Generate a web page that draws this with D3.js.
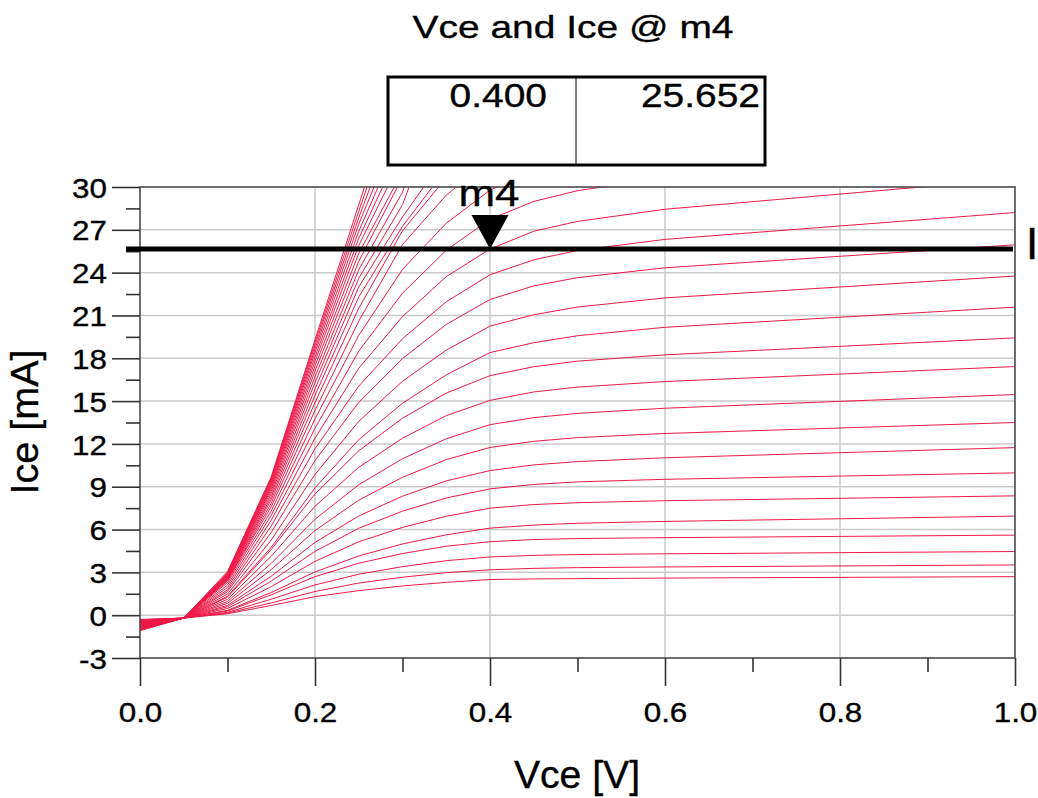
<!DOCTYPE html>
<html><head><meta charset="utf-8">
<script src="https://cdn.jsdelivr.net/npm/d3@7"></script>
<style>
body{margin:0;background:#fff;}
svg{display:block;}
text{font-family:"Liberation Sans",Arial,Helvetica,sans-serif;fill:#000;stroke:#000;stroke-width:0.35px;}
</style>
</head><body>
<svg id="c" width="1038" height="798"></svg>
<script>
// ---- data ----
const vceSweep = [0, 0.05, 0.1, 0.15, 0.2, 0.25, 0.3, 0.35, 0.4, 0.45, 0.5, 0.6, 1.0];
const iceCurves = [
  [-0.30,-0.20,0.10,0.68,1.30,1.72,2.05,2.30,2.50,2.54,2.56,2.60,2.70],
  [-0.32,-0.20,0.15,0.86,1.66,2.25,2.66,2.98,3.18,3.28,3.33,3.38,3.52],
  [-0.35,-0.20,0.20,1.12,2.12,2.87,3.40,3.82,4.08,4.19,4.25,4.30,4.46],
  [-0.37,-0.20,0.29,1.43,2.70,3.64,4.32,4.83,5.15,5.30,5.37,5.43,5.61],
  [-0.39,-0.20,0.34,1.59,3.03,4.15,4.99,5.63,6.10,6.31,6.44,6.57,6.94],
  [-0.42,-0.20,0.47,2.00,3.77,5.14,6.15,6.93,7.50,7.75,7.88,8.02,8.36],
  [-0.44,-0.20,0.59,2.39,4.47,6.09,7.29,8.21,8.85,9.16,9.34,9.52,9.97],
  [-0.47,-0.20,0.69,2.73,5.10,6.95,8.34,9.41,10.13,10.53,10.76,11.03,11.74],
  [-0.49,-0.20,0.83,3.19,5.93,8.06,9.66,10.90,11.75,12.18,12.44,12.73,13.50],
  [-0.51,-0.20,0.96,3.63,6.72,9.14,10.96,12.36,13.35,13.84,14.14,14.50,15.46],
  [-0.54,-0.20,1.11,4.13,7.63,10.36,12.40,13.98,15.05,15.64,15.98,16.37,17.42],
  [-0.56,-0.20,1.26,4.60,8.49,11.52,13.80,15.56,16.78,17.41,17.80,18.24,19.43],
  [-0.58,-0.20,1.33,4.76,8.92,12.30,14.85,16.84,18.40,19.09,19.58,20.17,21.58],
  [-0.61,-0.20,1.48,5.27,9.86,13.58,16.39,18.57,20.25,21.05,21.59,22.23,23.76],
  [-0.63,-0.20,1.65,5.80,10.83,14.91,17.98,20.37,22.12,23.07,23.65,24.34,25.95],
  [-0.65,-0.20,1.78,6.25,11.66,16.05,19.37,21.96,23.85,24.90,25.55,26.33,28.21],
  [-0.68,-0.20,1.94,6.65,12.40,17.30,20.92,23.72,25.652,26.90,27.59,28.44,30.57],
  [-0.70,-0.20,2.11,7.00,13.10,18.50,22.56,25.57,27.74,28.99,29.74,30.64],
  [-0.72,-0.20,2.28,7.30,13.75,19.60,24.23,27.46,29.78,31.11],
  [-0.75,-0.20,2.40,7.60,14.35,20.60,25.97,29.43,31.91],
  [-0.77,-0.20,2.45,7.85,14.90,21.50,26.93,30.65],
  [-0.79,-0.20,2.50,8.10,15.40,22.30,27.25,31.27],
  [-0.82,-0.20,2.54,8.30,15.85,23.00,27.90,32.24],
  [-0.84,-0.20,2.58,8.50,16.30,23.60,28.76,36.97],
  [-0.86,-0.20,2.62,8.70,16.70,24.20,29.64,38.46],
  [-0.89,-0.20,2.66,8.85,17.10,24.80,30.67],
  [-0.91,-0.20,2.70,9.00,17.45,25.35,31.09],
  [-0.93,-0.20,2.74,9.12,17.80,25.90,32.13],
  [-0.96,-0.20,2.78,9.24,18.10,26.40,32.99],
  [-0.98,-0.20,2.82,9.35,18.40,26.90,33.90],
  [-1.01,-0.20,2.86,9.45,18.65,27.40,34.86],
  [-1.03,-0.20,2.92,9.55,18.90,27.85,36.02],
  [-1.06,-0.20,2.98,9.62,19.10,28.30,37.19],
  [-1.08,-0.20,3.05,9.70,19.30,28.75,38.33]
];
const xTicks = [0, 0.2, 0.4, 0.6, 0.8, 1.0];
const xMinorTicks = [0.1, 0.3, 0.5, 0.7, 0.9];
const yTicks = [-3, 0, 3, 6, 9, 12, 15, 18, 21, 24, 27, 30];
const yMinorTicks = [-1.5, 1.5, 4.5, 7.5, 10.5, 13.5, 16.5, 19.5, 22.5, 25.5, 28.5];
const markerName = "m4";
const markerVce = 0.400;
const markerIce = 25.652;
const titleText = "Vce and Ice @ m4";
const xLabel = "Vce [V]";
const yLabel = "Ice [mA]";

// ---- chart ----
const svg = d3.select("#c");
const L = 140, R = 1015, T = 187, B = 658;
const x = d3.scaleLinear().domain([0, 1]).range([L, R]);
const y = d3.scaleLinear().domain([-3, 30]).range([B, T]);
const red = "#ef1a48";

function widen(sel, f) {
  sel.each(function() {
    const w = this.getComputedTextLength();
    d3.select(this).attr("textLength", w * f).attr("lengthAdjust", "spacingAndGlyphs");
  });
}

// grid
const grid = svg.append("g").attr("stroke", "#cacaca").attr("stroke-width", 1.5);
grid.selectAll(".gy").data(yTicks.filter(d => d > -3 && d < 30)).join("line")
  .attr("x1", L).attr("x2", R).attr("y1", d => y(d)).attr("y2", d => y(d));
grid.selectAll(".gx").data(xTicks.filter(d => d > 0 && d < 1)).join("line")
  .attr("y1", T).attr("y2", B).attr("x1", d => x(d)).attr("x2", d => x(d));

// curves
svg.append("clipPath").attr("id", "clip").append("rect")
  .attr("x", L).attr("y", T).attr("width", R - L).attr("height", B - T);
const line = d3.line().x(d => x(d[0])).y(d => y(d[1]));
svg.append("g").attr("clip-path", "url(#clip)")
  .selectAll("path").data(iceCurves).join("path")
  .attr("d", c => line(c.map((v, i) => [vceSweep[i], v])))
  .attr("fill", "none").attr("stroke", red).attr("stroke-width", 1);

// frame
svg.append("rect").attr("x", L).attr("y", T).attr("width", R - L).attr("height", B - T)
  .attr("fill", "none").attr("stroke", "#4a4a4a").attr("stroke-width", 1.6);

// axes
const yAx = svg.append("g").attr("transform", `translate(${L},0)`)
  .call(d3.axisLeft(y).tickValues(yTicks).tickSize(28).tickPadding(5).tickFormat(d => String(d)));
const yAxm = svg.append("g").attr("transform", `translate(${L},0)`)
  .call(d3.axisLeft(y).tickValues(yMinorTicks).tickSize(14).tickFormat(""));
const xAx = svg.append("g").attr("transform", `translate(0,${B})`)
  .call(d3.axisBottom(x).tickValues(xTicks).tickSize(28).tickPadding(16).tickFormat(d3.format(".1f")));
const xAxm = svg.append("g").attr("transform", `translate(0,${B})`)
  .call(d3.axisBottom(x).tickValues(xMinorTicks).tickSize(14).tickFormat(""));
[yAx, yAxm, xAx, xAxm].forEach(a => {
  a.select(".domain").remove();
  a.selectAll(".tick line").attr("stroke", "#333").attr("stroke-width", 1.6);
});
yAx.selectAll(".tick text").attr("font-size", 28).attr("dy", "0.36em").call(widen, 1.12);
xAx.selectAll(".tick text").attr("font-size", 28).attr("dy", "0.71em").call(widen, 1.12);

// marker line
svg.append("line").attr("x1", 126).attr("x2", 1013)
  .attr("y1", y(markerIce)).attr("y2", y(markerIce))
  .attr("stroke", "#000").attr("stroke-width", 5);
const mx = x(markerVce), my = y(markerIce);
svg.append("path").attr("d", `M${mx},${my} L${mx - 18.5},${my - 34} L${mx + 18.5},${my - 34} Z`).attr("fill", "#000");
svg.append("text").attr("x", mx - 1).attr("y", my - 43).attr("text-anchor", "middle")
  .attr("font-size", 36).attr("textLength", 61).attr("lengthAdjust", "spacingAndGlyphs").text(markerName);
svg.append("text").attr("x", 1026).attr("y", 259).attr("font-size", 44).text("I");

// readout box
svg.append("rect").attr("x", 388).attr("y", 77).attr("width", 377).attr("height", 88)
  .attr("fill", "none").attr("stroke", "#000").attr("stroke-width", 3);
svg.append("line").attr("x1", 576).attr("x2", 576).attr("y1", 77).attr("y2", 165)
  .attr("stroke", "#000").attr("stroke-width", 1);
svg.append("text").attr("x", 547).attr("y", 107).attr("text-anchor", "end").attr("font-size", 33)
  .text(d3.format(".3f")(markerVce)).call(widen, 1.18);
svg.append("text").attr("x", 760).attr("y", 107).attr("text-anchor", "end").attr("font-size", 33)
  .text(d3.format(".3f")(markerIce)).call(widen, 1.18);

// titles
svg.append("text").attr("x", 573).attr("y", 38).attr("text-anchor", "middle").attr("font-size", 32)
  .attr("textLength", 321).attr("lengthAdjust", "spacingAndGlyphs").text(titleText);
svg.append("text").attr("x", 577).attr("y", 788).attr("text-anchor", "middle").attr("font-size", 38)
  .text(xLabel).call(widen, 1.03);
svg.append("text").attr("transform", "translate(38,422) rotate(-90)").attr("text-anchor", "middle")
  .attr("font-size", 38).text(yLabel).call(widen, 1.04);
</script>
</body></html>
